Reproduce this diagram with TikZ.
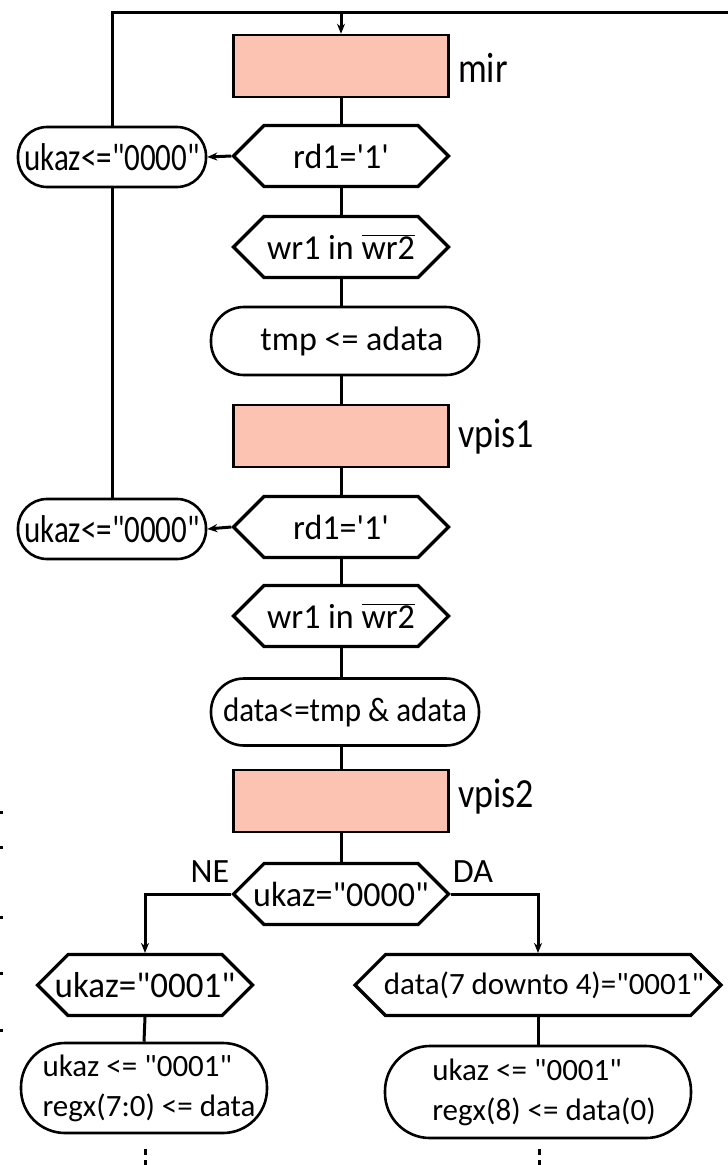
\documentclass[tikz,border=0pt]{standalone}
\usepackage{fontspec}
\usepackage{graphicx}
\setmainfont{Carlito}[Ligatures=TeXOff]
\usetikzlibrary{shapes.symbols,shapes.misc,arrows.meta}
\definecolor{salmon}{HTML}{FCC2B2}
\newcommand\tallt[2][1.25]{\scalebox{1}[#1]{#2}}
\newcommand\hx[1]{\makebox[0pt]{\tallt[1.03]{#1}}}
\begin{document}
\begin{tikzpicture}[x=1pt,y=-1pt,
  every node/.style={font=\fontsize{31}{40}\selectfont, inner sep=0pt},
  state/.style={draw, line width=2.5pt, fill=salmon, minimum width=215pt, minimum height=62pt},
  hexa/.style={draw, line width=3.2pt, signal, signal to=east and west, signal pointer angle=90, minimum width=215pt, minimum height=61pt},
  hexbig/.style={hexa, font=\fontsize{34}{40}\selectfont},
  term/.style={draw, line width=2.6pt, rectangle, rounded corners=29pt, minimum width=188pt, minimum height=60pt},
  lbl/.style={anchor=west, font=\fontsize{36}{40}\selectfont},
  brl/.style={font=\fontsize{34}{40}\selectfont},
  conn/.style={line width=3pt},
  arr/.style={line width=3pt, -{Stealth[length=10pt,width=8pt]}},
  dotl/.style={line width=3pt, dash pattern=on 6pt off 5pt},
]
\useasboundingbox (0,0) rectangle (728,1165);
% nodes
\node[state] (mir) at (341,66) {};
\node[lbl] (mirl) at (458,68) {\tallt[1.18]{mir}};
\node[hexbig] (h1) at (341,156) {\hx{rd1='1'}};
\node[term] (u1) at (112,157) {\tallt{ukaz<="0000"}};
\node[hexbig] (h2) at (341,247) {\hx{wr1 in $\overline{\hbox{wr2}}$}};
\node[term, minimum width=268pt, minimum height=68pt, rounded corners=33pt, font=\fontsize{34}{40}\selectfont] (t1) at (345,341) {\hspace*{14pt}tmp <= adata};
\node[state] (v1) at (341,436) {};
\node[lbl] (v1l) at (458,437) {\tallt[1.15]{vpis1}};
\node[hexbig] (h3) at (341,527) {\hx{rd1='1'}};
\node[term] (u2) at (112,529) {\tallt{ukaz<="0000"}};
\node[hexbig] (h4) at (341,616) {\hx{wr1 in $\overline{\hbox{wr2}}$}};
\node[term, minimum width=268pt, minimum height=67pt, rounded corners=33pt] (d1) at (345,712) {\tallt[1.1]{data<=tmp \& adata}};
\node[state] (v2) at (341,801) {};
\node[lbl] (v2l) at (458,797) {\tallt[1.15]{vpis2}};
\node[hexbig] (h5) at (341,894) {\hx{ukaz="0000"}};
\node[brl] (ne) at (210,872) {NE};
\node[brl] (da) at (473,872) {DA};
\node[hexbig, font=\fontsize{35}{40}\selectfont] (h6) at (145,985) {\hx{ukaz="0001"}};
\node[hexa, minimum width=366pt] (h7) at (538,985) {\makebox[0pt]{\hspace*{12pt}data(7 downto 4)="0001"}};
\node[term, minimum width=246pt, minimum height=90pt, rounded corners=44pt, align=left] (bL) at (144,1088) {\hspace*{10pt}ukaz <= "0001"\\\hspace*{10pt}regx(7:0) <= data};
\node[term, minimum width=306pt, minimum height=92pt, rounded corners=45pt, align=left] (bR) at (538,1092) {\hspace*{12pt}ukaz <= "0001"\\\hspace*{12pt}regx(8) <= data(0)};
% connectors
\coordinate (tr) at (728,12);
\coordinate (tm) at (mir.north |- tr);
\draw[conn] (u1.north) |- (tr);
\draw[arr] (tm) -- (mir.north);
\draw[conn] (mir.south) -- (h1.north);
\draw[arr] (h1.west) -- (u1.east);
\draw[conn] (h1.south) -- (h2.north);
\draw[conn] (h2.south) -- (h2.south |- t1.north);
\draw[conn] (t1.south -| v1.north) -- (v1.north);
\draw[conn] (v1.south) -- (h3.north);
\draw[arr] (h3.west) -- (u2.east);
\draw[conn] (u2.north) -- (u1.south);
\draw[conn] (h3.south) -- (h4.north);
\draw[conn] (h4.south) -- (h4.south |- d1.north);
\draw[conn] (d1.south -| v2.north) -- (v2.north);
\draw[conn] (v2.south) -- (h5.north);
\draw[arr] (h5.west) -| (h6.north);
\draw[arr] (h5.east) -| (h7.north);
\draw[conn] (h6.south) -- (bL.north);
\draw[conn] (h7.south) -- (bR.north);
\coordinate (dL1) at (145,1149);
\coordinate (dL2) at (145,1165);
\coordinate (dR1) at (539,1149);
\coordinate (dR2) at (539,1165);
\draw[dotl] (dL1) -- (dL2);
\draw[dotl] (dR1) -- (dR2);
% edge marks
\foreach \yy in {812,847,917,973,1030} \fill (0,\yy-1.5) rectangle (2.5,\yy+1.5);
\end{tikzpicture}
\end{document}
